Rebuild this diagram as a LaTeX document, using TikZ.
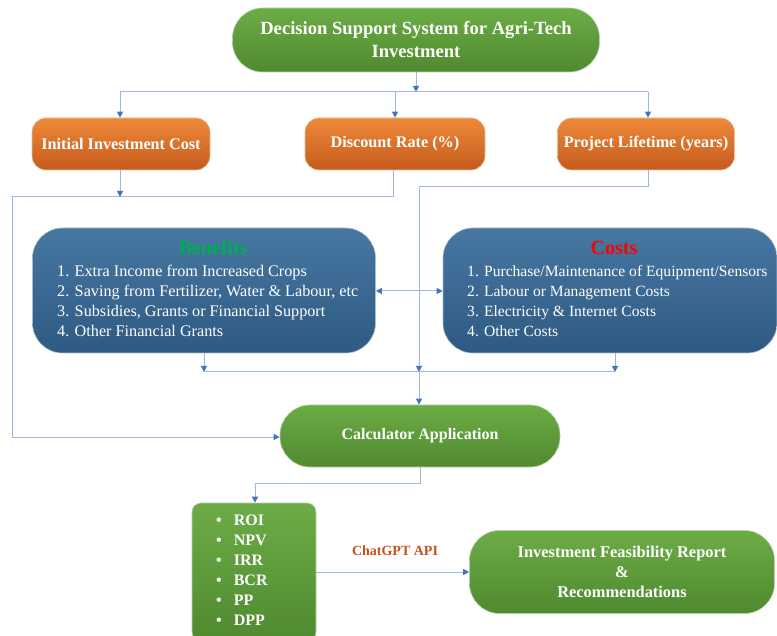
\documentclass[tikz,border=0pt]{standalone}
\usepackage{fontspec}
\setmainfont{Liberation Serif}
\usetikzlibrary{arrows.meta}
\definecolor{gA}{HTML}{6CAC46}
\definecolor{gB}{HTML}{4F8A2F}
\definecolor{oA}{HTML}{EE8A3A}
\definecolor{oB}{HTML}{C55A1C}
\definecolor{bA}{HTML}{4777A2}
\definecolor{bB}{HTML}{2E5A82}
\definecolor{ln}{HTML}{9DB6E3}
\definecolor{tip}{HTML}{4472C4}
\definecolor{capi}{HTML}{C4501C}
\definecolor{bengreen}{HTML}{00B050}
\definecolor{costred}{HTML}{FF0000}
\begin{document}
\begin{tikzpicture}[x=1pt,y=-1pt,
  base/.style={inner sep=0pt, text=white, align=center, draw=white!60!#1, line width=0.6pt},
  greenbox/.style={base=gB, top color=gA, bottom color=gB, font=\bfseries\fontsize{16}{20}\selectfont},
  orangebox/.style={base=oB, top color=oA, bottom color=oB, rounded corners=14pt, font=\bfseries\fontsize{16.2}{19}\selectfont},
  bluebox/.style={base=bB, top color=bA, bottom color=bB, rounded corners=30pt},
  listtext/.style={anchor=north west, inner sep=0pt, text=white, align=left, font=\fontsize{16.2}{20}\selectfont},
  conn/.style={draw=ln, line width=1pt},
  arr/.style={conn, -{Triangle[length=6pt,width=6pt,fill=tip,color=tip]}},
  darr/.style={conn, {Triangle[length=6pt,width=6pt,fill=tip,color=tip]}-{Triangle[length=6pt,width=6pt,fill=tip,color=tip]}}
]
\useasboundingbox (0,0) rectangle (777,636);

% nodes
\node[greenbox, rounded corners=30pt, minimum width=367pt, minimum height=64pt, font=\bfseries\fontsize{18.6}{23}\selectfont] (top) at (416,40)
  {Decision Support System for Agri-Tech\\Investment};

\node[orangebox, minimum width=178pt, minimum height=52pt] (init) at (121,144) {Initial Investment Cost};
\node[orangebox, minimum width=180pt, minimum height=52pt] (disc) at (395,144) {Discount Rate (\%)};
\node[orangebox, minimum width=177pt, minimum height=52pt] (life) at (646,144) {Project Lifetime (years)};

\node[bluebox, minimum width=343pt, minimum height=125pt] (ben) at (204,290.5) {};
\node[font=\bfseries\fontsize{20}{22}\selectfont, text=bengreen, anchor=base] (bentitle) at (213,255) {Benefits};
\node[listtext] (benlist) at (57,265)
  {1. Extra Income from Increased Crops\\
   2. Saving from Fertilizer, Water \& Labour, etc\\
   3. Subsidies, Grants or Financial Support\\
   4. Other Financial Grants};

\node[bluebox, minimum width=334pt, minimum height=125pt] (cost) at (610,290.5) {};
\node[font=\bfseries\fontsize{20}{22}\selectfont, text=costred, anchor=base] (costtitle) at (614,255) {Costs};
\node[listtext, font=\fontsize{15.6}{20}\selectfont] (costlist) at (467,265)
  {1. Purchase/Maintenance of Equipment/Sensors\\
   2. Labour or Management Costs\\
   3. Electricity \& Internet Costs\\
   4. Other Costs};

\node[greenbox, rounded corners=30pt, minimum width=280pt, minimum height=62pt] (calc) at (420,436) {Calculator Application};

\node[greenbox, rounded corners=9pt, minimum width=124pt, minimum height=138pt] (met) at (254,572) {};
\node[anchor=north west, inner sep=0pt, text=white, align=left, font=\bfseries\fontsize{16}{20}\selectfont] (metlist) at (216,515)
  {\textbullet\hspace{12pt}ROI\\
   \textbullet\hspace{12pt}NPV\\
   \textbullet\hspace{12pt}IRR\\
   \textbullet\hspace{12pt}BCR\\
   \textbullet\hspace{12pt}PP\\
   \textbullet\hspace{12pt}DPP};

\node[greenbox, rounded corners=30pt, minimum width=305pt, minimum height=83pt, font=\bfseries\fontsize{16.4}{20}\selectfont] (rep) at (622,572)
  {Investment Feasibility Report\\\&\\Recommendations};

\node[text=capi, font=\bfseries\fontsize{14}{16}\selectfont] (api) at (395,551) {ChatGPT API};

% coordinates
\coordinate (t1) at (416,92);
\coordinate (hL) at (120,92);
\coordinate (hR) at (648,92);
\coordinate (j1) at (120,197);
\coordinate (j2) at (393,197);
\coordinate (j3) at (12,197);
\coordinate (j4) at (12,437);
\coordinate (k1) at (648,187);
\coordinate (k2) at (419,187);
\coordinate (k3) at (419,372);
\coordinate (b1) at (204,372);
\coordinate (b2) at (615,372);
\coordinate (c1) at (420,483);
\coordinate (c2) at (255,483);

% connectors
\draw[arr] (top.south) -- (t1);
\draw[conn] (hL) -- (hR);
\draw[arr] (hL) -- (init.north -| hL);
\draw[arr] (disc.north |- t1) -- (disc.north);
\draw[arr] (hR) -- (life.north -| hR);

\draw[arr] (init.south -| j1) -- (j1);
\draw[conn] (disc.south -| j2) -- (j2) -- (j3) -- (j4);
\draw[arr] (j4) -- (calc.west |- j4);

\draw[conn] (life.south -| k1) -- (k1) -- (k2);
\draw[arr] (k2) -- (k3);
\draw[arr] (k3) -- (calc.north -| k3);

\draw[darr] (ben.east |- 0,291) -- (cost.west |- 0,291);

\draw[arr] (ben.south -| b1) -- (b1);
\draw[arr] (cost.south -| b2) -- (b2);
\draw[conn] (b1) -- (b2);

\draw[conn] (calc.south) -- (c1) -- (c2);
\draw[arr] (c2) -- (met.north -| c2);

\draw[arr] (met.east |- 0,572) -- (rep.west |- 0,572);
\end{tikzpicture}
\end{document}
